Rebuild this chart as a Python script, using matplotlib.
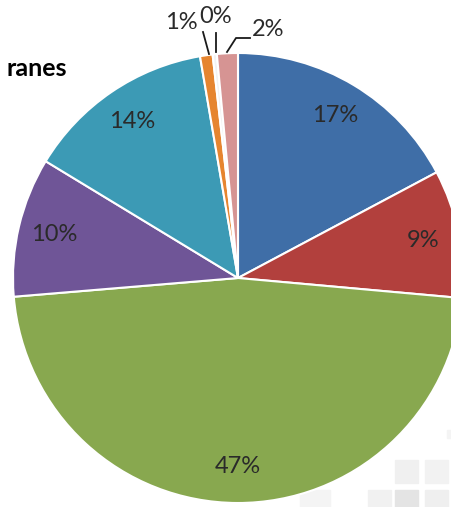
import numpy as np
import matplotlib.pyplot as plt
from matplotlib.patches import Rectangle

# slice shares (percent)
labels = ['17%', '9%', '47%', '10%', '14%', '1%', '0%', '2%']
shares = [17.2, 9.2, 47.2, 10.0, 13.6, 0.9, 0.3, 1.5]
colors = ['#3F6EA7', '#B2403D', '#88A84F', '#6F5597', '#3C9AB5',
          '#E6852F', '#F2F2F2', '#D69493']

W, H = 452, 507
fig = plt.figure(figsize=(W / 100, H / 100), dpi=100)
ax = fig.add_axes([0, 0, 1, 1])

cx, cy, R = 238, H - 278, 225

# faint watermark tiles bottom right
for (x, y, s, c) in [(395, 460, 23, '#f0f0f0'), (425, 460, 23, '#f2f2f2'),
                     (368, 490, 23, '#f1f1f1'), (395, 490, 23, '#e4e4e4'),
                     (425, 490, 23, '#efefef'), (300, 490, 30, '#f4f4f4'),
                     (447, 430, 8, '#f4f4f4')]:
    ax.add_patch(Rectangle((x, H - y - s), s, s, color=c, zorder=0))

wedges, _ = ax.pie(shares, colors=colors, startangle=90, counterclock=False,
                   center=(cx, cy), radius=R, frame=True,
                   wedgeprops=dict(edgecolor='white', linewidth=1.5))
ax.set_xlim(0, W)
ax.set_ylim(0, H)
ax.axis('off')

txt = dict(fontsize=17, color='#2a2a2a', family='Lato', ha='center', va='center')

# big slices: labels inside
for w, lab in zip(wedges[:5], labels[:5]):
    ang = np.deg2rad((w.theta1 + w.theta2) / 2)
    r = 0.84 * R
    ax.text(cx + r * np.cos(ang), cy + r * np.sin(ang), lab, **txt)

# tiny slices: labels outside with leader lines
outs = [((181, 22), [(209, 54), (203, 32)]),
        ((216, 16), [(216, 52), (216, 33)]),
        ((268, 29), [(227, 52), (236, 38), (250, 38)])]
for lab, (pos, line) in zip(labels[5:], outs):
    ax.text(pos[0], H - pos[1], lab, **txt)
    xs = [p[0] for p in line]
    ys = [H - p[1] for p in line]
    ax.plot(xs, ys, color='#1a1a1a', lw=1.3, zorder=5)

ax.text(7, H - 68, 'ranes', fontsize=18, fontweight='bold', family='Lato',
        ha='left', va='center', color='black')

fig.savefig('out.png', dpi=100)
